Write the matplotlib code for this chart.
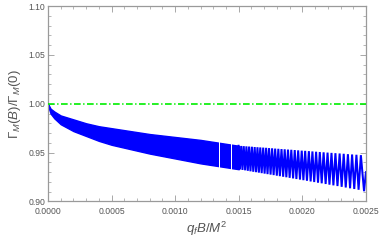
import matplotlib
matplotlib.use("Agg")
import matplotlib.pyplot as plt
from matplotlib.ticker import MultipleLocator, FormatStrFormatter

# ---- data ----
# dense (unresolved) oscillation band: upper / lower envelope
band_B = [0.0, 0.00002, 0.00005, 0.0001, 0.0002, 0.0003, 0.0004, 0.0005,
          0.0006, 0.0008, 0.0010, 0.0012, 0.0014, 0.0015]
band_top = [1.000, 0.995, 0.992, 0.988, 0.984, 0.980, 0.977, 0.975,
            0.973, 0.969, 0.966, 0.963, 0.959, 0.957]
band_bot = [0.998, 0.990, 0.985, 0.979, 0.972, 0.967, 0.962, 0.958,
            0.955, 0.949, 0.944, 0.939, 0.935, 0.933]
# thin white gaps inside the band
band_gaps = [(0.001346, 0.001351), (0.001439, 0.001444)]

# resolved sawtooth (peak / trough vertices)
zig_B = [0.001498, 0.001509, 0.001519, 0.001529, 0.001539, 0.001550, 0.001560, 0.001571,
         0.001581, 0.001592, 0.001603, 0.001614, 0.001625, 0.001636, 0.001647, 0.001658,
         0.001669, 0.001680, 0.001692, 0.001703, 0.001715, 0.001726, 0.001738, 0.001750,
         0.001762, 0.001774, 0.001786, 0.001799, 0.001811, 0.001823, 0.001836, 0.001849,
         0.001861, 0.001874, 0.001887, 0.001900, 0.001913, 0.001927, 0.001940, 0.001953,
         0.001967, 0.001981, 0.001995, 0.002008, 0.002022, 0.002036, 0.002051, 0.002065,
         0.002079, 0.002093, 0.002108, 0.002123, 0.002137, 0.002152, 0.002167, 0.002183,
         0.002198, 0.002213, 0.002229, 0.002244, 0.002260, 0.002276, 0.002293, 0.002309,
         0.002325, 0.002341, 0.002358, 0.002375, 0.002391, 0.002408, 0.002425, 0.002442,
         0.002460, 0.002485, 0.002500]
zig_G = [0.9570, 0.9328, 0.9568, 0.9323, 0.9566, 0.9319, 0.9564, 0.9314,
         0.9562, 0.9309, 0.9560, 0.9304, 0.9557, 0.9300, 0.9555, 0.9295,
         0.9553, 0.9290, 0.9551, 0.9285, 0.9549, 0.9280, 0.9546, 0.9275,
         0.9544, 0.9270, 0.9541, 0.9264, 0.9539, 0.9259, 0.9536, 0.9253,
         0.9534, 0.9248, 0.9531, 0.9242, 0.9529, 0.9236, 0.9526, 0.9230,
         0.9523, 0.9224, 0.9520, 0.9218, 0.9518, 0.9212, 0.9515, 0.9205,
         0.9512, 0.9199, 0.9509, 0.9192, 0.9506, 0.9186, 0.9503, 0.9179,
         0.9500, 0.9172, 0.9497, 0.9165, 0.9494, 0.9158, 0.9491, 0.9150,
         0.9488, 0.9143, 0.9484, 0.9135, 0.9481, 0.9128, 0.9478, 0.9120,
         0.9474, 0.9105, 0.9300]

ref_B = [0.0, 0.0025]
ref_G = [1.0, 1.0]

x_ticks = [0.0, 0.0005, 0.0010, 0.0015, 0.0020, 0.0025]
y_ticks = [0.90, 0.95, 1.00, 1.05, 1.10]

# ---- style ----
plt.rcParams['font.family'] = ['Liberation Sans', 'DejaVu Sans']
plt.rcParams['mathtext.fontset'] = 'custom'
plt.rcParams['mathtext.it'] = 'Liberation Sans:italic'
plt.rcParams['mathtext.rm'] = 'Liberation Sans'

gray = '#9a9a9a'
tgray = '#555555'

fig = plt.figure(figsize=(3.82, 2.45), dpi=100)
ax = fig.add_axes([0.1257, 0.1776, 0.958 - 0.1257, 0.9755 - 0.1776])

blue = '#0000ff'
ax.fill_between(band_B, band_bot, band_top, color=blue, lw=1.0, edgecolor=blue, zorder=2)
ax.plot(zig_B, zig_G, color=blue, lw=1.45, solid_joinstyle='miter', zorder=2)
for g0, g1 in band_gaps:
    ax.axvspan(g0, g1, ymin=0.1, ymax=0.4, color='white', lw=0, zorder=3)

ax.plot(ref_B, ref_G, color='#00ee00', lw=1.2, dashes=(4, 1.5, 0.8, 1.5), zorder=4)

ax.set_xlim(0, 0.0025)
ax.set_ylim(0.90, 1.10)
ax.set_xticks(x_ticks)
ax.set_yticks(y_ticks)
ax.xaxis.set_major_formatter(FormatStrFormatter('%.4f'))
ax.yaxis.set_major_formatter(FormatStrFormatter('%.2f'))
ax.xaxis.set_minor_locator(MultipleLocator(0.0001))
ax.yaxis.set_minor_locator(MultipleLocator(0.01))

for s in ax.spines.values():
    s.set_color(gray)
    s.set_linewidth(0.9)
ax.tick_params(which='both', direction='in', top=True, right=True, color=gray,
               labelcolor=tgray, labelsize=6.2)
ax.tick_params(axis='x', pad=4)
ax.tick_params(axis='y', pad=2)
ax.tick_params(which='major', length=4, width=0.6)
ax.tick_params(which='minor', length=2, width=0.5)

ax.set_xlabel(r'$q_f B/M^2$', fontsize=9.5, color=tgray, labelpad=3)
ax.set_ylabel(r'$\mathit{Γ}_M(B)/\mathit{Γ}_M(0)$', fontsize=9.5, color=tgray, labelpad=4)

fig.savefig('out.png', dpi=100)
